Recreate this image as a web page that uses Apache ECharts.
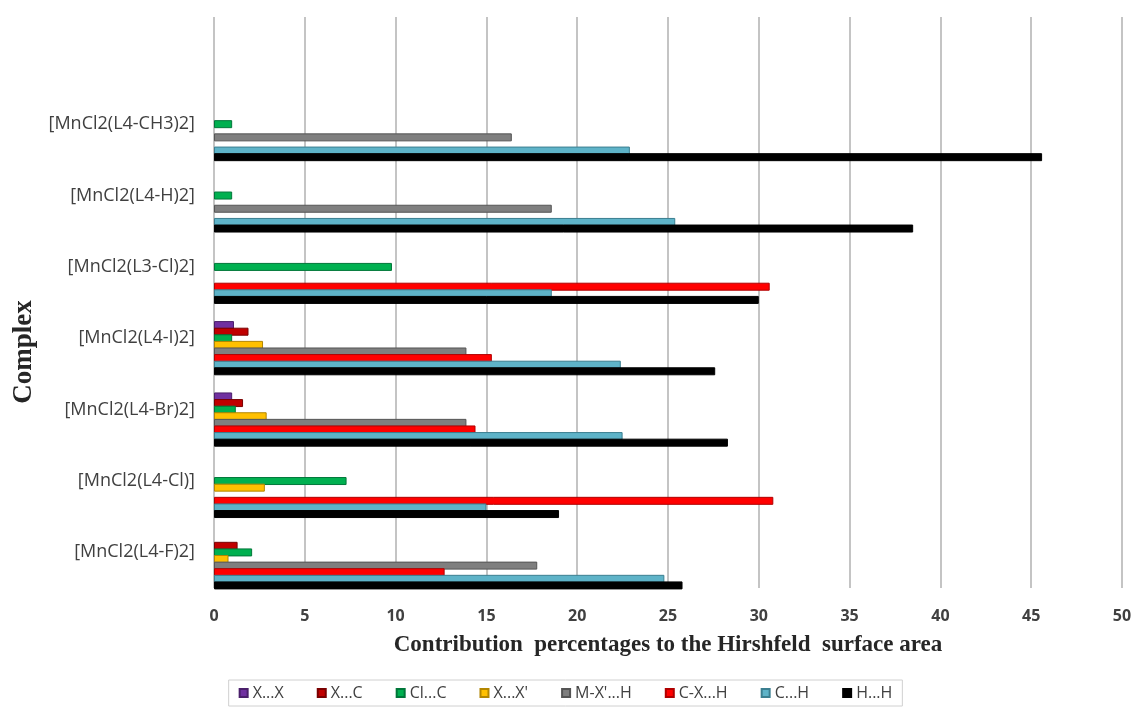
<!DOCTYPE html>
<html lang="en">
    <head>
        <meta charset="UTF-8" />
        <title>Hirshfeld contributions</title>
        <style>
            * {
                box-sizing: border-box;
                margin: 0;
                padding: 0;
            }
            #chart {
                width: 1131px;
                height: 713px;
                background-color: #fff;
            }
        </style>
    </head>
    <body>
        <div id="chart"></div>
        <script src="https://cdn.jsdelivr.net/npm/echarts@6/dist/echarts.min.js"></script>
        <script>
            // categories from bottom to top, last one is the empty row at the top
            var categories = [
                '[MnCl2(L4-F)2]',
                '[MnCl2(L4-Cl)]',
                '[MnCl2(L4-Br)2]',
                '[MnCl2(L4-I)2]',
                '[MnCl2(L3-Cl)2]',
                '[MnCl2(L4-H)2]',
                '[MnCl2(L4-CH3)2]',
                ''
            ]
            var seriesNames = ['X...X', 'X...C', 'Cl...C', 'X...X\'', 'M-X\'...H', 'C-X...H', 'C...H', 'H...H']
            var xTicks = [0, 5, 10, 15, 20, 25, 30, 35, 40, 45, 50]

            // values per series (same order as categories), null = no bar
            var xx = [null, null, 1.0, 1.1, null, null, null]
            var xc = [1.3, null, 1.6, 1.9, null, null, null]
            var clc = [2.1, 7.3, 1.2, 1.0, 9.8, 1.0, 1.0]
            var xxp = [0.8, 2.8, 2.9, 2.7, null, null, null]
            var mxh = [17.8, null, 13.9, 13.9, null, 18.6, 16.4]
            var cxh = [12.7, 30.8, 14.4, 15.3, 30.6, null, null]
            var ch = [24.8, 15.0, 22.5, 22.4, 18.6, 25.4, 22.9]
            var hh = [25.8, 19.0, 28.3, 27.6, 30.0, 38.5, 45.6]

            var values = [xx, xc, clc, xxp, mxh, cxh, ch, hh]
            var colors = ['#7030a0', '#c00000', '#00b050', '#ffc000', '#7f7f7f', '#ff0000', '#5eb3c8', '#000000']
            var borders = ['#4a1f6b', '#7a0000', '#00773a', '#b38600', '#555555', '#b00000', '#3b7f90', '#000000']

            var chart = echarts.init(document.getElementById('chart'))

            var series = seriesNames.map(function (name, i) {
                return {
                    name: name,
                    type: 'bar',
                    xAxisIndex: 1,
                    yAxisIndex: 1,
                    barWidth: 8,
                    barGap: '-17.5%',
                    animation: false,
                    itemStyle: {
                        color: colors[i],
                        borderColor: borders[i],
                        borderWidth: 1
                    },
                    data: values[i]
                }
            })

            chart.setOption({
                color: colors,
                textStyle: { fontFamily: 'Open Sans' },
                // grid 0 draws axes, grid 1 (shifted a little down) holds the bars
                grid: [
                    { left: 214, right: 9, top: 17, bottom: 125, outerBoundsMode: 'none' },
                    { left: 214, right: 9, top: 27, bottom: 115, outerBoundsMode: 'none' }
                ],
                legend: {
                    bottom: 7,
                    left: 'center',
                    data: seriesNames,
                    icon: 'rect',
                    itemWidth: 8,
                    itemHeight: 8,
                    itemGap: 33,
                    padding: [5, 10],
                    borderColor: '#d0d0d0',
                    borderWidth: 1,
                    textStyle: {
                        fontSize: 16,
                        color: '#404040'
                    }
                },
                xAxis: [
                    {
                        type: 'value',
                        gridIndex: 0,
                        min: xTicks[0],
                        max: xTicks[xTicks.length - 1],
                        interval: 5,
                        name: 'Contribution  percentages to the Hirshfeld  surface area',
                        nameLocation: 'middle',
                        nameGap: 46,
                        nameTextStyle: {
                            fontFamily: 'Liberation Serif',
                            fontWeight: 'bold',
                            fontSize: 23,
                            color: '#262626'
                        },
                        axisLine: { show: false },
                        axisTick: { show: false },
                        axisLabel: {
                            margin: 20,
                            fontSize: 16,
                            fontWeight: 'bold',
                            color: '#404040'
                        },
                        splitLine: {
                            show: true,
                            lineStyle: { color: '#c4c4c4', width: 2 }
                        }
                    },
                    {
                        type: 'value',
                        gridIndex: 1,
                        min: xTicks[0],
                        max: xTicks[xTicks.length - 1],
                        show: false,
                        splitLine: { show: false }
                    }
                ],
                yAxis: [
                    {
                        type: 'category',
                        gridIndex: 0,
                        data: categories,
                        axisLine: { show: false },
                        axisTick: { show: false },
                        axisLabel: {
                            margin: 19,
                            fontSize: 18,
                            color: '#404040'
                        }
                    },
                    {
                        type: 'category',
                        gridIndex: 1,
                        data: categories,
                        show: false
                    }
                ],
                graphic: [
                    {
                        type: 'text',
                        x: 24,
                        y: 352,
                        rotation: Math.PI / 2,
                        style: {
                            text: 'Complex',
                            fontFamily: 'Liberation Serif',
                            fontWeight: 'bold',
                            fontSize: 27,
                            fill: '#262626',
                            align: 'center',
                            verticalAlign: 'middle'
                        }
                    }
                ],
                series: series
            })
        </script>
    </body>
</html>
